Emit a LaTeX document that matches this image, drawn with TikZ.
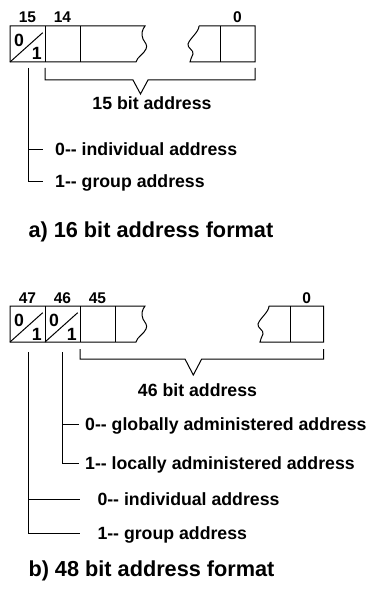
\documentclass[tikz,border=0pt]{standalone}
\usepackage{fontspec}
\setmainfont{Liberation Sans}[BoldFont={Liberation Sans Bold}]
\newfontfamily\bsf{Liberation Sans Bold}
\begin{document}
\begin{tikzpicture}[x=1pt,y=-1pt]
\tikzset{
 lbl/.style={font=\bsf\fontsize{15.5}{18}\selectfont, inner sep=0, anchor=base},
 txt/.style={font=\bsf\fontsize{17.7}{20}\selectfont, inner sep=0, anchor=base west},
 ctxt/.style={font=\bsf\fontsize{17.7}{20}\selectfont, inner sep=0, anchor=base},
 ttl/.style={font=\bsf\fontsize{21.7}{26}\selectfont, inner sep=0, anchor=base west},
 dig/.style={font=\bsf\fontsize{17.7}{20}\selectfont, inner sep=0, anchor=base},
 ln/.style={line width=1pt, black, line join=miter},
}
\useasboundingbox (0,0) rectangle (374,593);

% ===== a) 16 bit =====
\draw[ln] (10,26) -- (145,26) .. controls (142,30) and (141,34) .. (143,39) .. controls (145,43) and (148,45) .. (146,49) .. controls (144,54) and (137,57) .. (136,62) -- (10,62) -- cycle;
\draw[ln] (45,26) -- (45,62);
\draw[ln] (80,26) -- (80,62);
\draw[ln] (10,62) -- (42.7,32.7);
\node[dig] (a0) at (19,46.7) {0};
\node[dig] (a1) at (36.7,60) {1};
\draw[ln] (199,26) -- (255,26) -- (255,62) -- (190,62) .. controls (190,60) and (192,57) .. (193,54) .. controls (194,50) and (187,48) .. (188,44) .. controls (190,38) and (199,32) .. (199,26);
\draw[ln] (220,26) -- (220,62);
\node[lbl] (la15) at (27.5,22.7) {15};
\node[lbl] (la14) at (62.5,22.7) {14};
\node[lbl] (la0) at (237.5,22.7) {0};

\coordinate (abl) at (45,68);
\coordinate (abr) at (255,68);
\draw[ln] (abl) -- (45,80) -- (133,80) -- (140.5,94) -- (148,80) -- (255,80) -- (abr);
\node[ctxt] (a15bit) at (152,110) {15 bit address};

\coordinate (ast) at (28.5,68);
\coordinate (aie) at (43,150);
\coordinate (age) at (43,182);
\draw[ln] (ast) |- (age);
\draw[ln] (ast |- aie) -- (aie);
\node[txt] (aind) at (55,156) {0-{}- individual address};
\node[txt] (agrp) at (55,188) {1-{}- group address};
\node[ttl] (atitle) at (28.3,237.3) {a) 16 bit address format};

% ===== b) 48 bit =====
\draw[ln] (10,306) -- (145,306) .. controls (142,310) and (141,314) .. (143,319) .. controls (145,323) and (148,325) .. (146,329) .. controls (144,334) and (137,337) .. (136,342) -- (10,342) -- cycle;
\draw[ln] (45,306) -- (45,342);
\draw[ln] (80,306) -- (80,342);
\draw[ln] (115,306) -- (115,342);
\draw[ln] (10,342) -- (42.7,312.7);
\draw[ln] (45,342) -- (77.7,312.7);
\node[dig] (b0a) at (19,326.7) {0};
\node[dig] (b1a) at (36.7,340) {1};
\node[dig] (b0b) at (54,326.7) {0};
\node[dig] (b1b) at (71.7,340) {1};
\draw[ln] (269,306) -- (323.5,306) -- (323.5,342) -- (260,342) .. controls (260,340) and (262,337) .. (263,334) .. controls (264,330) and (257,328) .. (258,324) .. controls (260,318) and (269,312) .. (269,306);
\draw[ln] (290,306) -- (290,342);
\node[lbl] (lb47) at (27.5,303) {47};
\node[lbl] (lb46) at (62.5,303) {46};
\node[lbl] (lb45) at (97.5,303) {45};
\node[lbl] (lb0) at (306.7,303) {0};

\coordinate (bbl) at (80,349);
\coordinate (bbr) at (323.5,349);
\draw[ln] (bbl) -- (80,359) -- (185,359) -- (193.3,375) -- (201.7,359) -- (323.5,359) -- (bbr);
\node[ctxt] (b46bit) at (197.5,396) {46 bit address};

\coordinate (b46s) at (62.5,352);
\coordinate (bge) at (79,424);
\coordinate (ble) at (79,463);
\draw[ln] (b46s) |- (ble);
\draw[ln] (b46s |- bge) -- (bge);
\node[txt] (bglob) at (85,430) {0-{}- globally administered address};
\node[txt] (bloc) at (85,469) {1-{}- locally administered address};

\coordinate (b47s) at (28.5,352);
\coordinate (bie) at (80,499);
\coordinate (bgre) at (80,533);
\draw[ln] (b47s) |- (bgre);
\draw[ln] (b47s |- bie) -- (bie);
\node[txt] (bind) at (97.3,505) {0-{}- individual address};
\node[txt] (bgrp) at (97.3,539) {1-{}- group address};
\node[ttl] (btitle) at (28.3,576) {b) 48 bit address format};
\end{tikzpicture}
\end{document}
